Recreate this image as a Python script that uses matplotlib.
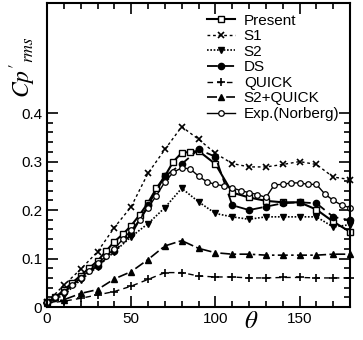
import matplotlib
matplotlib.use('Agg')
import matplotlib.pyplot as plt
from matplotlib.ticker import MultipleLocator, FixedLocator

plt.rcParams['font.family'] = ['Liberation Sans', 'DejaVu Sans']
plt.rcParams['mathtext.fontset'] = 'stix'

# data
theta = [0, 10, 20, 30, 40, 50, 60, 70, 80, 90, 100, 110, 120, 130, 140, 150, 160, 170, 180]

present_theta = [0, 5, 10, 15, 20, 25, 30, 35, 40, 45, 50, 55, 60, 65, 70, 75, 80, 85, 90,
                 100, 110, 120, 130, 140, 150, 160, 170, 180]
present = [0.01, 0.02, 0.035, 0.05, 0.065, 0.08, 0.095, 0.115, 0.135, 0.15, 0.168, 0.19, 0.215,
           0.245, 0.27, 0.30, 0.318, 0.32, 0.322, 0.295, 0.236, 0.226, 0.219, 0.216, 0.216,
           0.201, 0.176, 0.155]

s1 = [0.01, 0.045, 0.078, 0.114, 0.164, 0.207, 0.276, 0.325, 0.372, 0.346, 0.317, 0.296,
      0.289, 0.289, 0.294, 0.300, 0.294, 0.268, 0.263]
s2 = [0.008, 0.025, 0.056, 0.083, 0.114, 0.145, 0.172, 0.205, 0.245, 0.217, 0.193, 0.186,
      0.181, 0.186, 0.186, 0.186, 0.186, 0.165, 0.17]
ds = [0.01, 0.03, 0.06, 0.085, 0.115, 0.15, 0.21, 0.27, 0.295, 0.325, 0.31, 0.21, 0.2,
      0.207, 0.214, 0.216, 0.214, 0.186, 0.179]
quick = [0.008, 0.012, 0.018, 0.025, 0.032, 0.043, 0.057, 0.071, 0.071, 0.064, 0.062, 0.062,
         0.06, 0.06, 0.061, 0.061, 0.06, 0.06, 0.06]
s2_quick = [0.008, 0.015, 0.028, 0.036, 0.058, 0.073, 0.098, 0.126, 0.137, 0.121, 0.112, 0.109,
            0.109, 0.107, 0.107, 0.107, 0.107, 0.109, 0.109]

exp_theta = [0, 5, 10, 15, 20, 25, 30, 35, 40, 45, 50, 55, 60, 65, 70, 75, 80, 85, 90, 95, 100,
             105, 110, 115, 120, 125, 130, 135, 140, 145, 150, 155, 160, 165, 170, 175, 180]
exp = [0.01, 0.02, 0.03, 0.045, 0.06, 0.075, 0.09, 0.105, 0.12, 0.14, 0.158, 0.18, 0.205, 0.23,
       0.258, 0.278, 0.287, 0.285, 0.27, 0.258, 0.253, 0.25, 0.246, 0.24, 0.236, 0.232, 0.226,
       0.252, 0.253, 0.256, 0.256, 0.253, 0.253, 0.233, 0.22, 0.21, 0.205]

fig = plt.figure(figsize=(3.63, 3.40), dpi=100)
ax = fig.add_axes([0.1295, 0.097, 0.835, 0.894])

k = dict(color='black', clip_on=False)
ax.plot(present_theta, present, '-', lw=1.5, marker='s', ms=4.5, mfc='white', mew=1.0, label='Present', **k)
ax.plot(theta, s1, ls=(0, (2, 2)), lw=1.0, marker='x', ms=5, mew=1.2, label='S1', **k)
ax.plot(theta, s2, ls=(0, (1, 1)), lw=1.2, marker='v', ms=5, label='S2', **k)
ax.plot(theta, ds, ls=(0, (6, 3)), lw=1.3, marker='o', ms=4.5, label='DS', **k)
ax.plot(theta, quick, ls=(0, (4, 3)), lw=1.0, marker='+', ms=6, mew=1.2, label='QUICK', **k)
ax.plot(theta, s2_quick, ls=(0, (6, 2, 1.5, 2)), lw=1.2, marker='^', ms=5, label='S2+QUICK', **k)
ax.plot(exp_theta, exp, '-', lw=1.0, marker='o', ms=4, mfc='white', mew=0.9, label='Exp.(Norberg)', **k)

ax.set_xlim(0, 180)
ax.set_ylim(0, 0.627)
ax.xaxis.set_major_locator(MultipleLocator(50))
ax.xaxis.set_minor_locator(MultipleLocator(10))
ax.yaxis.set_major_locator(FixedLocator([0, 0.1, 0.2, 0.3, 0.4]))
ax.yaxis.set_minor_locator(FixedLocator([i * 0.02 for i in range(21)]))
ax.set_yticklabels(['0', '0.1', '0.2', '0.3', '0.4'])
ax.tick_params(which='both', direction='in', top=True, right=True, width=1.2, labelsize=11)
ax.tick_params(which='major', length=8)
ax.tick_params(which='minor', length=4)
for s in ax.spines.values():
    s.set_linewidth(1.5)

ax.text(-0.08, 0.79, "$Cp'_{rms}$", transform=ax.transAxes, rotation=90,
        fontsize=17, ha='center', va='center')
ax.text(0.675, -0.045, r'$\theta$', transform=ax.transAxes, fontsize=18,
        ha='center', va='center')

ax.legend(loc='upper right', frameon=False, fontsize=11, handlelength=1.8,
          handletextpad=0.6, labelspacing=0.1, borderaxespad=0.3)

fig.savefig('out.png', dpi=100)
